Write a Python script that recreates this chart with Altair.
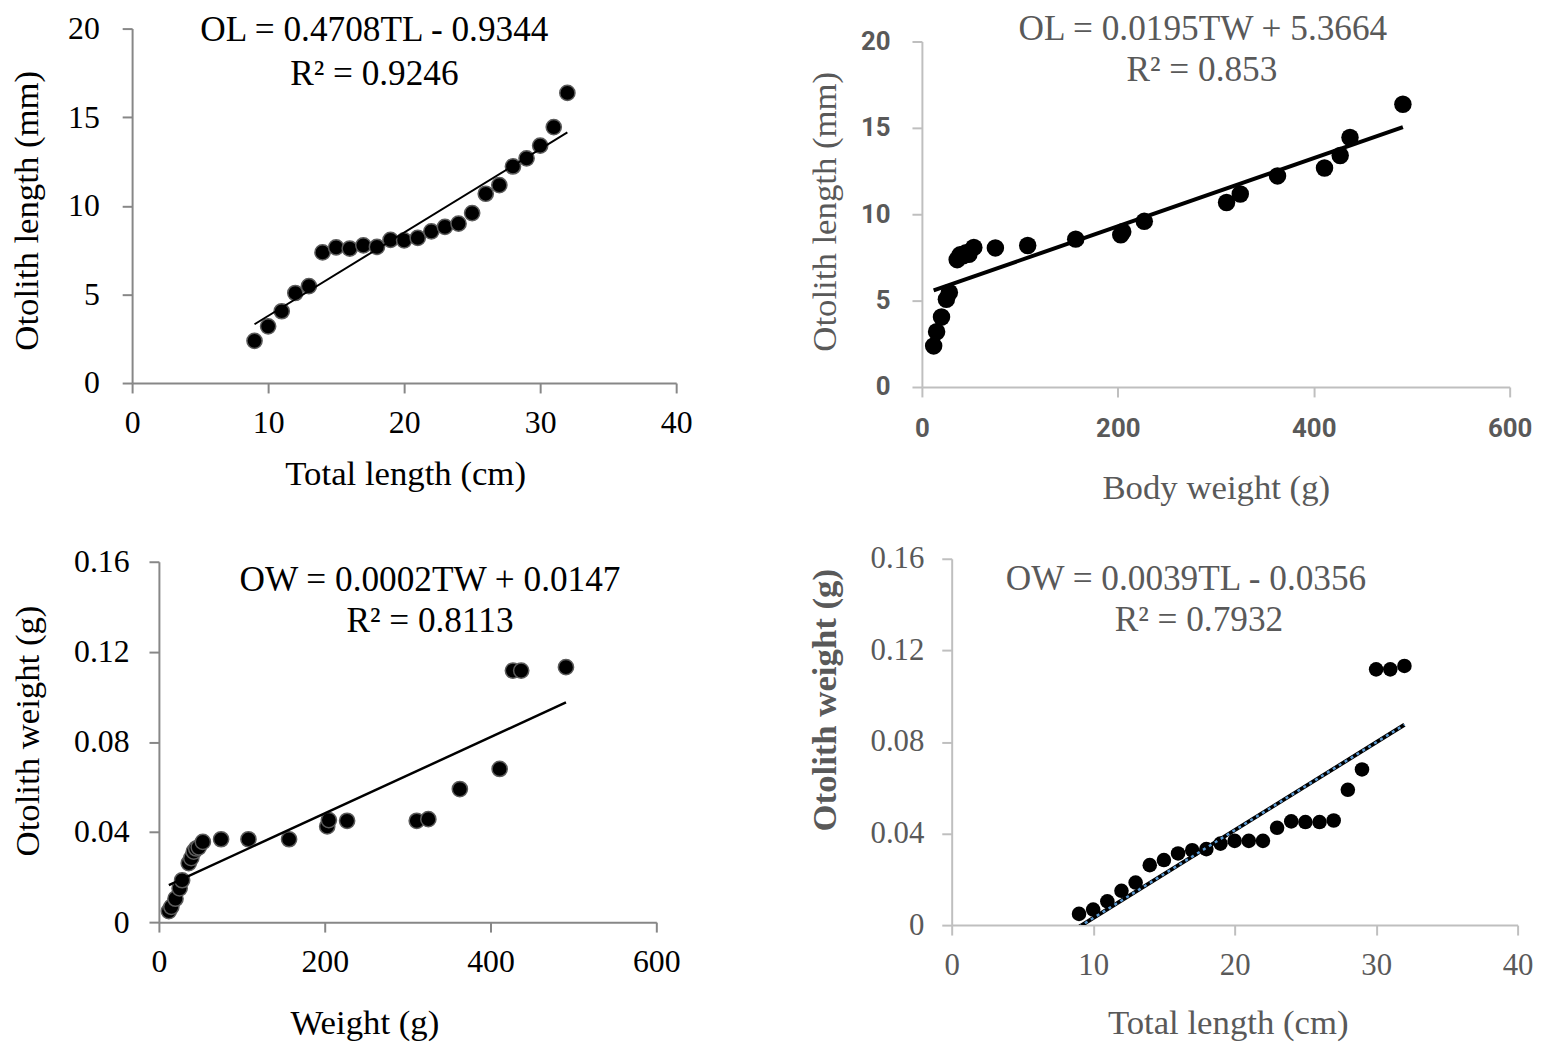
import altair as alt
import pandas as pd

# ---------------- data ----------------
TL = [9, 10, 11, 12, 13, 14, 15, 16, 17, 18, 19, 20,
      21, 22, 23, 24, 25, 26, 27, 28, 29, 30, 31, 32]
OL = [2.38, 3.20, 4.05, 5.08, 5.47, 7.37, 7.65, 7.59, 7.77, 7.68, 8.08, 8.05,
      8.19, 8.56, 8.81, 8.99, 9.59, 10.68, 11.17, 12.22, 12.68, 13.40, 14.44, 16.37]
OW = [0.0049, 0.0068, 0.0104, 0.0150, 0.0186, 0.0262, 0.0284, 0.0313, 0.0327, 0.0332, 0.0356, 0.0368,
      0.0368, 0.0368, 0.0425, 0.0453, 0.0450, 0.0450, 0.0457, 0.0591, 0.0680, 0.1117, 0.1117, 0.1132]
BW = [12, 15, 20, 25, 28, 36, 39, 42, 45, 48, 53, 75,
      108, 157, 203, 205, 227, 311, 325, 363, 411, 427, 437, 491]

EQ_OL_TL = ["OL = 0.4708TL - 0.9344", "R² = 0.9246"]
EQ_OL_BW = ["OL = 0.0195TW + 5.3664", "R² = 0.853"]
EQ_OW_BW = ["OW = 0.0002TW + 0.0147", "R² = 0.8113"]
EQ_OW_TL = ["OW = 0.0039TL - 0.0356", "R² = 0.7932"]

TICKS_TL = [0, 10, 20, 30, 40]
TICKS_BW = [0, 200, 400, 600]
TICKS_OL = [0, 5, 10, 15, 20]
TICKS_OW = [0, 0.04, 0.08, 0.12, 0.16]

df = pd.DataFrame({"TL": TL, "OL": OL, "OW": OW, "BW": BW})

SERIF = "Liberation Serif"
SANS = "Roboto"
AX_DARK = "#878787"
AX_LIGHT = "#BFBFBF"
GRAY_TXT = "#595959"


def axis(values, title, color_ax, lab_font, lab_size, lab_color, lab_weight,
         lab_pad, t_color, t_weight, tx, ty, horizontal, fmt=None, offset=None):
    kw = dict(values=values, title=title, grid=False,
              domainColor=color_ax, domainWidth=2, tickColor=color_ax, tickWidth=2,
              tickSize=10, labelFont=lab_font, labelFontSize=lab_size,
              labelColor=lab_color, labelFontWeight=lab_weight, labelPadding=lab_pad,
              labelFlush=False, labelOverlap=False,
              titleFont=SERIF, titleFontSize=35, titleColor=t_color,
              titleFontWeight=t_weight, titleX=tx, titleY=ty, titleBaseline="middle",
              titleAlign="center")
    if horizontal:
        kw["labelBaseline"] = "middle"
    else:
        kw["titleAngle"] = 270
    if fmt:
        kw["format"] = fmt
    if offset is not None:
        kw["offset"] = offset
    return alt.Axis(**kw)


def texts(lines, positions, color):
    out = []
    for line, (px, py) in zip(lines, positions):
        out.append(
            alt.Chart(pd.DataFrame({"t": [line]}))
            .mark_text(font=SERIF, fontSize=35.5, color=color, align="center", baseline="middle")
            .encode(x=alt.value(px), y=alt.value(py), text="t:N")
        )
    return out


# ---------------- panel 1: OL vs TL ----------------
b1 = alt.Chart(df).encode(
    x=alt.X("TL:Q", scale=alt.Scale(domain=[0, 40], nice=False),
            axis=axis(TICKS_TL, "Total length (cm)", AX_DARK, SERIF, 32, "black", "normal",
                      30, "black", "normal", 275, 91, True)),
    y=alt.Y("OL:Q", scale=alt.Scale(domain=[0, 20], nice=False),
            axis=axis(TICKS_OL, "Otolith length (mm)", AX_DARK, SERIF, 32, "black", "normal",
                      23, "black", "normal", -106, 183, False)),
)
p1 = alt.layer(
    b1.mark_circle(size=235, color="black", opacity=1, stroke="#5c5c5c", strokeWidth=1.5),
    b1.transform_regression("TL", "OL").mark_line(color="black", strokeWidth=2),
    *texts(EQ_OL_TL, [(244, 2), (244, 46)], "black"),
).properties(width=548, height=357)

# ---------------- panel 2: OL vs body weight ----------------
b2 = alt.Chart(df).encode(
    x=alt.X("BW:Q", scale=alt.Scale(domain=[0, 600], nice=False),
            axis=axis(TICKS_BW, "Body weight (g)", AX_LIGHT, SANS, 26, GRAY_TXT, "bold",
                      32, GRAY_TXT, "normal", 296, 101, True)),
    y=alt.Y("OL:Q", scale=alt.Scale(domain=[0, 20], nice=False, range=[361, 13]),
            axis=axis(TICKS_OL, "Otolith length (mm)", AX_LIGHT, SANS, 26, GRAY_TXT, "bold",
                      22, GRAY_TXT, "normal", -98, 184, False)),
)
p2 = alt.layer(
    b2.mark_circle(size=310, color="black", opacity=1),
    b2.transform_regression("BW", "OL").mark_line(color="black", strokeWidth=4),
    *texts(EQ_OL_BW, [(283, 0), (282, 42)], GRAY_TXT),
).properties(width=592, height=361)

# ---------------- panel 3: OW vs weight ----------------
b3 = alt.Chart(df).encode(
    x=alt.X("BW:Q", scale=alt.Scale(domain=[0, 600], nice=False, range=[27, 528]),
            axis=axis(TICKS_BW, "Weight (g)", AX_DARK, SERIF, 32, "black", "normal",
                      30, "black", "normal", 234, 101, True)),
    y=alt.Y("OW:Q", scale=alt.Scale(domain=[0, 0.16], nice=False, range=[366, 3]),
            axis=axis(TICKS_OW, "Otolith weight (g)", AX_DARK, SERIF, 32, "black", "normal",
                      20, "black", "normal", -132, 173, False, fmt="~g", offset=-27)),
)
p3 = alt.layer(
    b3.mark_circle(size=235, color="black", opacity=1, stroke="#5c5c5c", strokeWidth=1.5),
    b3.transform_regression("BW", "OW").mark_line(color="black", strokeWidth=2.5),
    *texts(EQ_OW_BW, [(300, 21), (300, 63)], "black"),
).properties(width=528, height=366)

# ---------------- panel 4: OW vs TL ----------------
b4 = alt.Chart(df).encode(
    x=alt.X("TL:Q", scale=alt.Scale(domain=[0, 40], nice=False, range=[30, 600]),
            axis=axis(TICKS_TL, "Total length (cm)", AX_LIGHT, SERIF, 31, GRAY_TXT, "normal",
                      31, GRAY_TXT, "normal", 308, 98, True)),
    y=alt.Y("OW:Q", scale=alt.Scale(domain=[0, 0.16], nice=False),
            axis=axis(TICKS_OW, "Otolith weight (g)", AX_LIGHT, SERIF, 31, GRAY_TXT, "normal",
                      18, GRAY_TXT, "bold", -128, 142, False, fmt="~g", offset=-30)),
)
p4 = alt.layer(
    b4.mark_circle(size=215, color="black", opacity=1),
    b4.transform_regression("TL", "OW").mark_line(color="black", strokeWidth=4, clip=True),
    b4.transform_regression("TL", "OW").mark_line(color="#5B9BD5", strokeWidth=2.5,
                                                  strokeDash=[3, 4], clip=True),
    *texts(EQ_OW_TL, [(266, 20), (279, 62)], GRAY_TXT),
).properties(width=600, height=369)

chart = (
    alt.concat(p1, p2, p3, p4, columns=2, align="each",
               spacing={"row": 38, "column": 116.5})
    .properties(padding={"left": 2, "top": 0, "right": 0, "bottom": 0}, background="white")
    .configure_view(strokeWidth=0)
)

chart.save("out.html", embed_options={"renderer": "svg", "actions": False})
